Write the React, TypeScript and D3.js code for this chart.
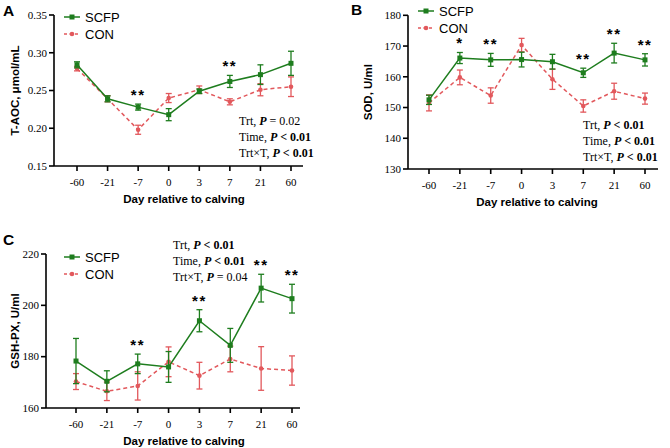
import React from 'react';
import * as d3 from 'd3';

// Days relative to calving (categorical x axis)
const days = ['-60', '-21', '-7', '0', '3', '7', '21', '60'];

// T-AOC, umol/mL
const taocScfp = [0.284, 0.239, 0.228, 0.218, 0.249, 0.262, 0.271, 0.286];
const taocScfpSe = [0.004, 0.004, 0.004, 0.008, 0.003, 0.008, 0.013, 0.016];
const taocCon = [0.279, 0.239, 0.198, 0.240, 0.251, 0.235, 0.251, 0.255];
const taocConSe = [0.003, 0.004, 0.006, 0.006, 0.005, 0.004, 0.008, 0.013];
const taocSig = ['', '', '**', '', '', '**', '', ''];
const taocTicks = [0.15, 0.2, 0.25, 0.3, 0.35];
const taocStats = [
  ['Trt, ', '= 0.02', false],
  ['Time, ', '< 0.01', true],
  ['Trt×T, ', '< 0.01', true],
] as const;

// SOD, U/ml
const sodScfp = [152.5, 166.1, 165.5, 165.6, 164.9, 161.3, 167.7, 165.5];
const sodScfpSe = [1.5, 1.8, 2.1, 2.4, 2.4, 1.5, 3.2, 2.0];
const sodCon = [151.5, 159.8, 153.9, 170.3, 159.2, 150.5, 155.3, 152.9];
const sodConSe = [2.6, 2.4, 2.5, 2.2, 3.3, 2.0, 2.6, 1.8];
const sodSig = ['', '*', '**', '', '', '**', '**', '**'];
const sodTicks = [130, 140, 150, 160, 170, 180];
const sodStats = [
  ['Trt, ', '< 0.01', true],
  ['Time, ', '< 0.01', true],
  ['Trt×T, ', '< 0.01', true],
] as const;

// GSH-PX, U/ml
const gshScfp = [178.3, 170.4, 177.2, 176.0, 194.0, 184.4, 206.7, 202.6];
const gshScfpSe = [8.8, 4.1, 3.8, 6.0, 4.3, 6.6, 5.4, 5.6];
const gshCon = [170.3, 166.5, 168.6, 178.0, 172.6, 179.1, 175.4, 174.6];
const gshConSe = [3.1, 3.6, 5.5, 5.8, 5.2, 5.0, 8.5, 5.7];
const gshSig = ['', '', '**', '', '**', '', '**', '**'];
const gshTicks = [160, 180, 200, 220];
const gshStats = [
  ['Trt, ', '< 0.01', true],
  ['Time, ', '< 0.01', true],
  ['Trt×T, ', '= 0.04', false],
] as const;

const GREEN = '#1e7d1e';
const RED = '#e2585c';
const SERIF = '"Liberation Serif", "Times New Roman", serif';
const SANS = '"Liberation Sans", Arial, sans-serif';

type PanelProps = {
  letter: string;
  letterPos: [number, number];
  yTitle: string;
  yTitleX: number;
  axisX: number;
  axisEnd: number;
  xFirst: number;
  xLast: number;
  yTop: number;
  yBottom: number;
  domain: [number, number];
  ticks: number[];
  fmt: (v: number) => string;
  scfp: number[];
  scfpSe: number[];
  con: number[];
  conSe: number[];
  sig: string[];
  stats: readonly (readonly [string, string, boolean])[];
  statsPos: [number, number];
  legendPos: [number, number];
};

function Panel(p: PanelProps) {
  const x = d3.scalePoint<string>().domain(days).range([p.xFirst, p.xLast]);
  const y = d3.scaleLinear().domain(p.domain).range([p.yBottom, p.yTop]);
  const line = d3
    .line<number>()
    .x((_, i) => x(days[i]) as number)
    .y((d) => y(d));

  const errorBars = (vals: number[], se: number[], color: string) =>
    vals.map((v, i) => {
      const cx = x(days[i]) as number;
      const y1 = y(v + se[i]);
      const y2 = y(v - se[i]);
      return (
        <g key={i} stroke={color} strokeWidth={1.3}>
          <line x1={cx} x2={cx} y1={y1} y2={y2} />
          <line x1={cx - 3} x2={cx + 3} y1={y1} y2={y1} />
          <line x1={cx - 3} x2={cx + 3} y1={y2} y2={y2} />
        </g>
      );
    });

  const [lx, ly] = p.legendPos;
  const [sx, sy] = p.statsPos;

  return (
    <g>
      <text x={p.letterPos[0]} y={p.letterPos[1]} fontFamily={SANS} fontWeight="bold" fontSize={15.5}>
        {p.letter}
      </text>

      {/* axes */}
      <g stroke="#000" strokeWidth={1.6} fill="none">
        <line x1={p.axisX} x2={p.axisX} y1={p.yTop} y2={p.yBottom} />
        <line x1={p.axisX} x2={p.axisEnd} y1={p.yBottom} y2={p.yBottom} />
        {p.ticks.map((t) => (
          <line key={t} x1={p.axisX - 5} x2={p.axisX} y1={y(t)} y2={y(t)} />
        ))}
        {days.map((d) => (
          <line key={d} x1={x(d)} x2={x(d)} y1={p.yBottom} y2={p.yBottom + 5} />
        ))}
      </g>
      {p.ticks.map((t) => (
        <text key={t} x={p.axisX - 7} y={y(t) + 3.8} textAnchor="end" fontFamily={SERIF} fontSize={11}>
          {p.fmt(t)}
        </text>
      ))}
      {days.map((d) => (
        <text key={d} x={x(d)} y={p.yBottom + 20} textAnchor="middle" fontFamily={SERIF} fontSize={11}>
          {d}
        </text>
      ))}
      <text
        x={(p.xFirst + p.xLast) / 2}
        y={p.yBottom + 36.5}
        textAnchor="middle"
        fontFamily={SANS}
        fontWeight="bold"
        fontSize={11.5}
      >
        Day relative to calving
      </text>
      <text
        transform={`translate(${p.yTitleX},${(p.yTop + p.yBottom) / 2}) rotate(-90)`}
        textAnchor="middle"
        fontFamily={SANS}
        fontWeight="bold"
        fontSize={11.5}
      >
        {p.yTitle}
      </text>

      {/* CON */}
      {errorBars(p.con, p.conSe, RED)}
      <path d={line(p.con) ?? ''} fill="none" stroke={RED} strokeWidth={1.5} strokeDasharray="4,3" />
      {p.con.map((v, i) => (
        <circle key={i} cx={x(days[i])} cy={y(v)} r={2.3} fill={RED} />
      ))}

      {/* SCFP */}
      {errorBars(p.scfp, p.scfpSe, GREEN)}
      <path d={line(p.scfp) ?? ''} fill="none" stroke={GREEN} strokeWidth={1.5} />
      {p.scfp.map((v, i) => (
        <rect key={i} x={(x(days[i]) as number) - 2.5} y={y(v) - 2.5} width={5} height={5} fill={GREEN} />
      ))}

      {/* significance marks */}
      {p.sig.map((s, i) =>
        s ? (
          <text
            key={i}
            x={x(days[i])}
            y={y(Math.max(p.scfp[i] + p.scfpSe[i], p.con[i] + p.conSe[i])) - 4}
            textAnchor="middle"
            fontFamily={SANS}
            fontWeight="bold"
            fontSize={15}
            letterSpacing={1.5}
          >
            {s}
          </text>
        ) : null
      )}

      {/* legend */}
      <line x1={lx} x2={lx + 16} y1={ly} y2={ly} stroke={GREEN} strokeWidth={1.5} />
      <rect x={lx + 5.5} y={ly - 2.5} width={5} height={5} fill={GREEN} />
      <text x={lx + 21} y={ly + 4.5} fontFamily={SANS} fontSize={13}>
        SCFP
      </text>
      <line x1={lx} x2={lx + 16} y1={ly + 17} y2={ly + 17} stroke={RED} strokeWidth={1.5} strokeDasharray="3,2.5" />
      <circle cx={lx + 8} cy={ly + 17} r={2.3} fill={RED} />
      <text x={lx + 21} y={ly + 21.5} fontFamily={SANS} fontSize={13}>
        CON
      </text>

      {/* model statistics */}
      {p.stats.map(([lab, val, bold], i) => (
        <text key={i} x={sx} y={sy + i * 16} fontFamily={SERIF} fontSize={12}>
          {lab}
          <tspan fontStyle="italic" fontWeight="bold">P</tspan>
          <tspan fontWeight={bold ? 'bold' : 'normal'}>{' ' + val}</tspan>
        </text>
      ))}
    </g>
  );
}

export default function App() {
  const f2 = d3.format('.2f');
  const f0 = d3.format('d');
  return (
    <svg width={670} height={448} style={{ position: 'absolute', left: 0, top: 0 }}>
      <rect width={670} height={448} fill="#fff" />
      <Panel
        letter="A"
        letterPos={[3, 15.5]}
        yTitle="T-AOC, μmol/mL"
        yTitleX={19}
        axisX={54}
        axisEnd={303}
        xFirst={77}
        xLast={291}
        yTop={15}
        yBottom={166}
        domain={[0.15, 0.35]}
        ticks={taocTicks}
        fmt={f2}
        scfp={taocScfp}
        scfpSe={taocScfpSe}
        con={taocCon}
        conSe={taocConSe}
        sig={taocSig}
        stats={taocStats}
        statsPos={[239, 125]}
        legendPos={[64, 17]}
      />
      <Panel
        letter="B"
        letterPos={[351, 14.5]}
        yTitle="SOD, U/ml"
        yTitleX={372}
        axisX={408}
        axisEnd={658}
        xFirst={429}
        xLast={645}
        yTop={15.3}
        yBottom={169}
        domain={[130, 180]}
        ticks={sodTicks}
        fmt={f0}
        scfp={sodScfp}
        scfpSe={sodScfpSe}
        con={sodCon}
        conSe={sodConSe}
        sig={sodSig}
        stats={sodStats}
        statsPos={[583, 129]}
        legendPos={[418, 11]}
      />
      <Panel
        letter="C"
        letterPos={[3, 245]}
        yTitle="GSH-PX, U/ml"
        yTitleX={19}
        axisX={46}
        axisEnd={300}
        xFirst={76}
        xLast={292}
        yTop={254}
        yBottom={408}
        domain={[160, 220]}
        ticks={gshTicks}
        fmt={f0}
        scfp={gshScfp}
        scfpSe={gshScfpSe}
        con={gshCon}
        conSe={gshConSe}
        sig={gshSig}
        stats={gshStats}
        statsPos={[173, 249]}
        legendPos={[64, 257]}
      />
    </svg>
  );
}
